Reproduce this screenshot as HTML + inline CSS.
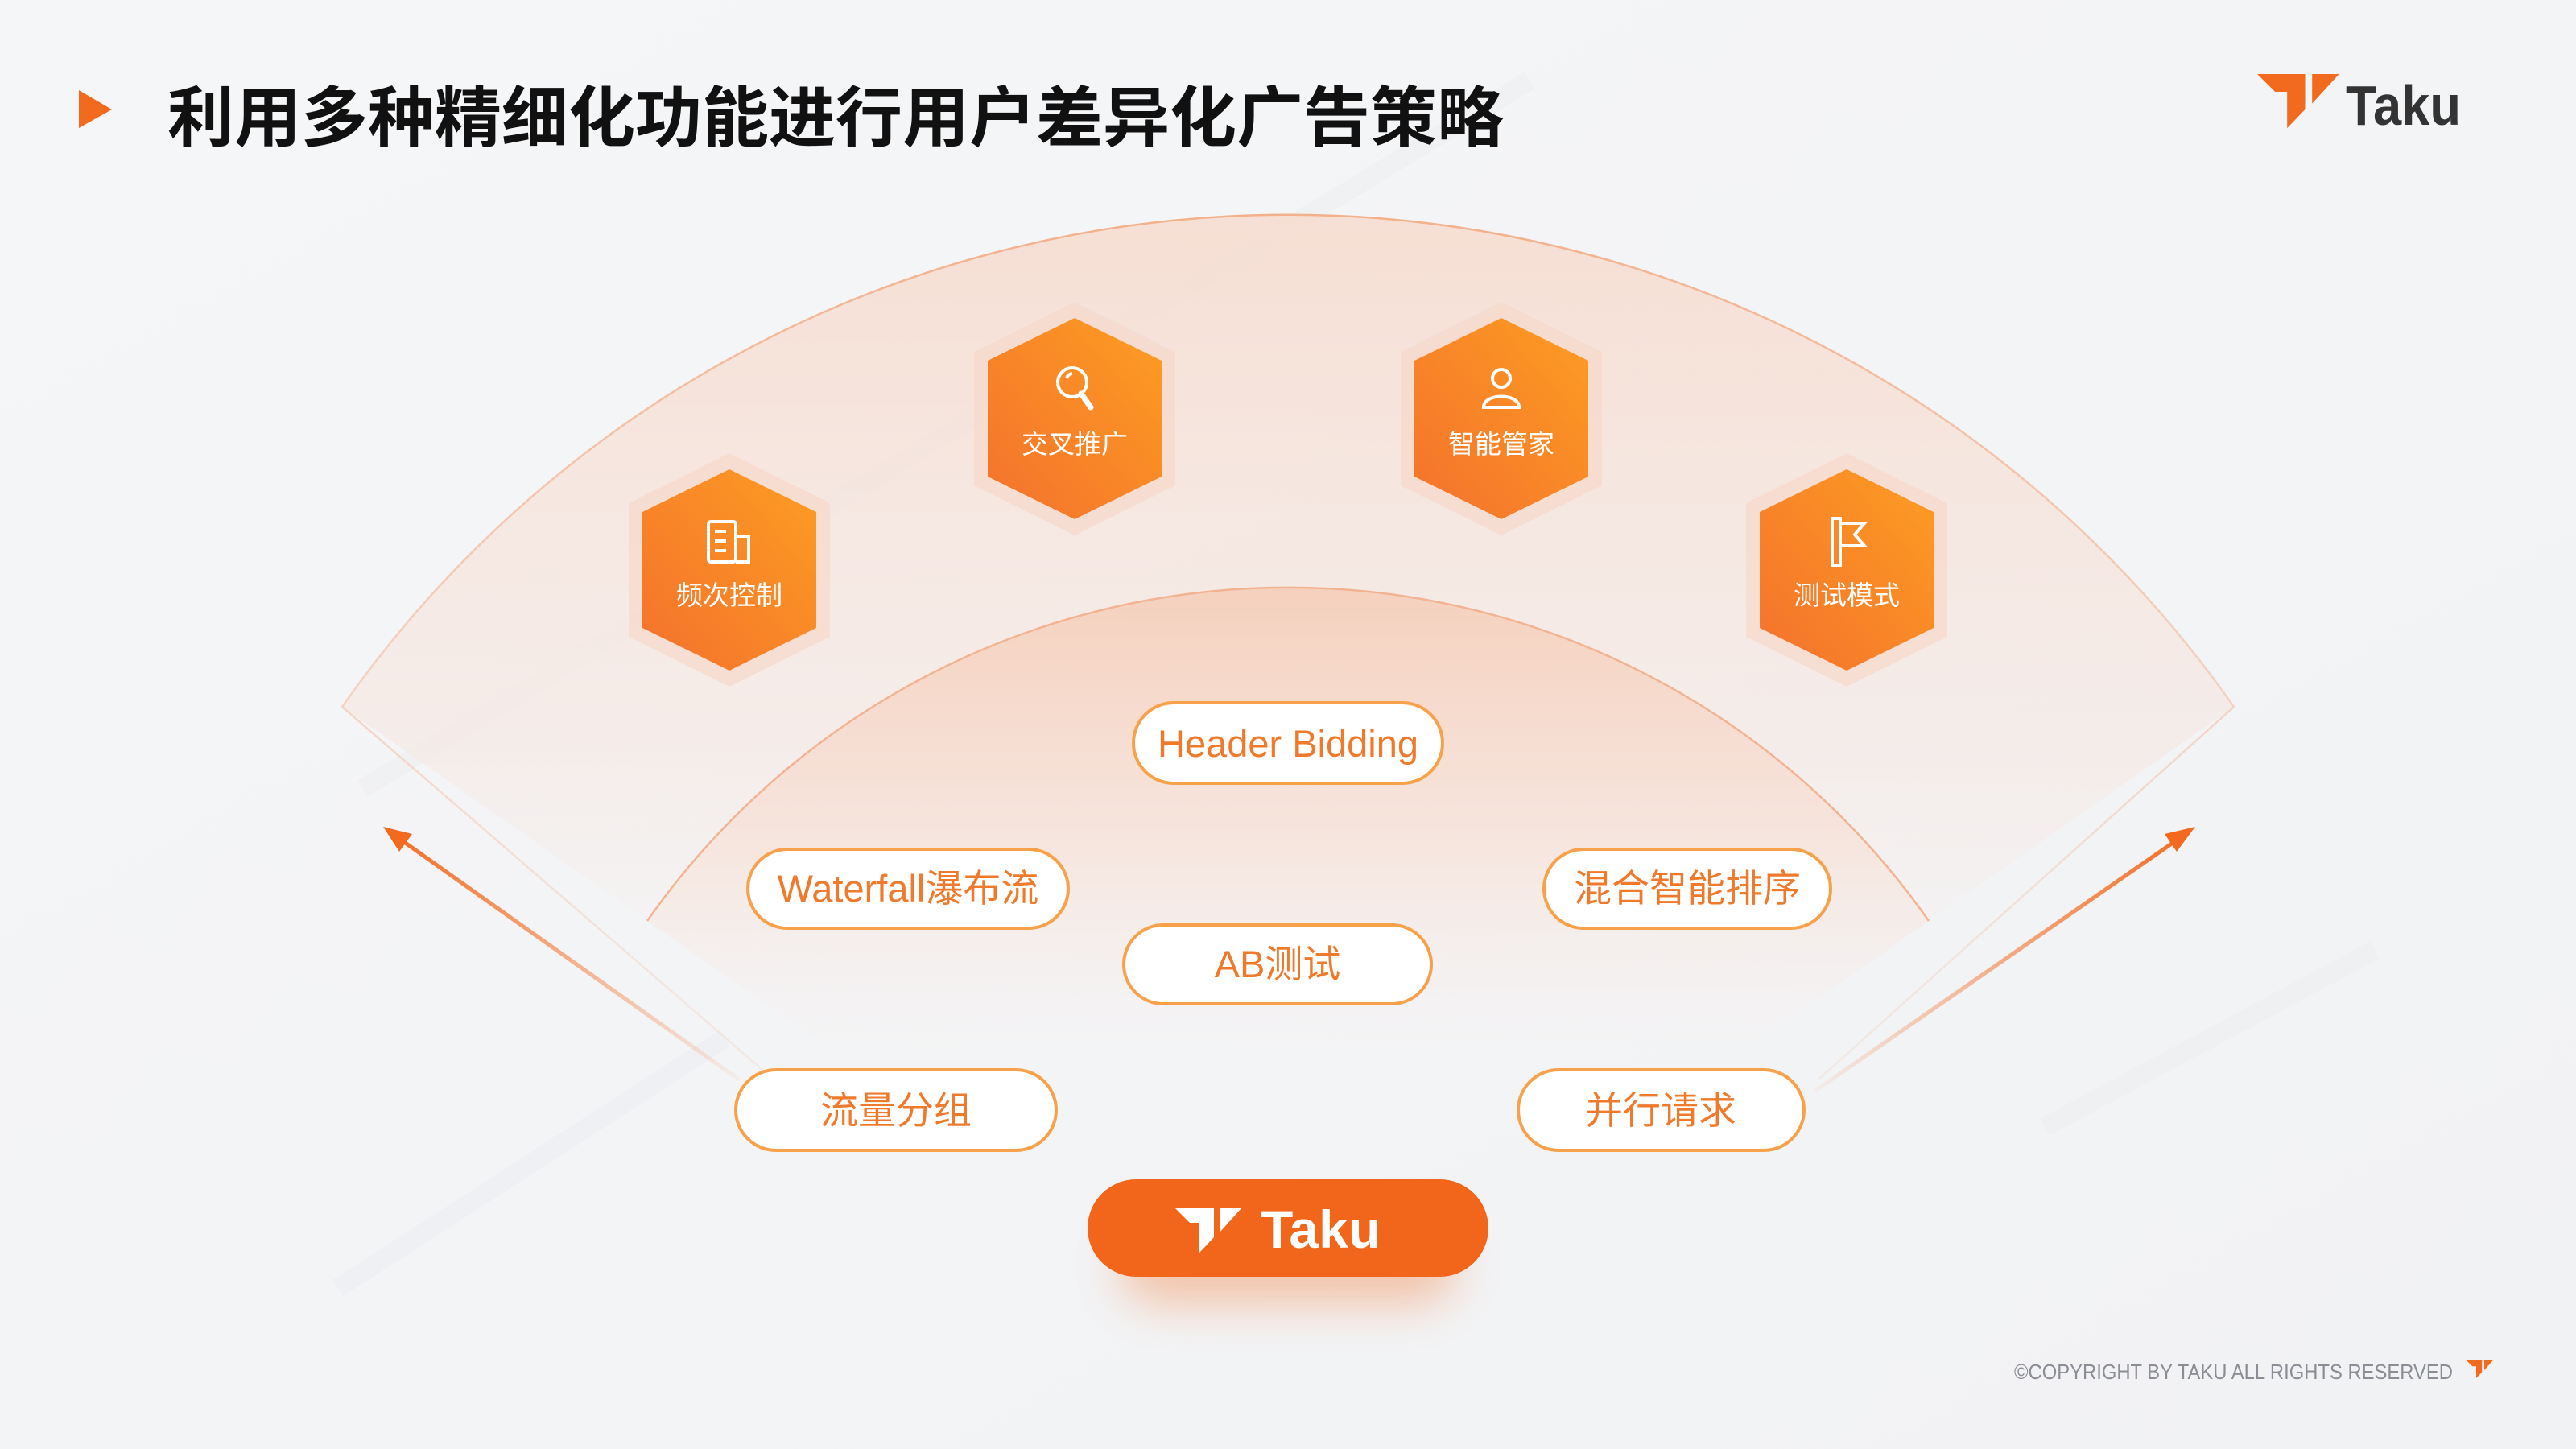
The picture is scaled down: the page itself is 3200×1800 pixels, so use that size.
<!DOCTYPE html>
<html><head><meta charset="utf-8"><style>
html,body{margin:0;padding:0;width:3200px;height:1800px;overflow:hidden;background:#f4f5f7}
svg{display:block}
text{font-family:"Liberation Sans","Noto Sans CJK SC",sans-serif}
</style></head><body>
<svg width="3200" height="1800" viewBox="0 0 3200 1800" xmlns="http://www.w3.org/2000/svg">
<defs>
<linearGradient id="bg" x1="0" y1="0" x2="1" y2="1"><stop offset="0" stop-color="#f5f6f8"/><stop offset="1" stop-color="#f1f2f4"/></linearGradient>
<linearGradient id="oF" gradientUnits="userSpaceOnUse" x1="0" y1="261" x2="0" y2="1400"><stop offset="0" stop-color="#f6dccf" stop-opacity="0.9"/><stop offset="0.6" stop-color="#f6e8e2" stop-opacity="0.6"/><stop offset="1" stop-color="#f4f5f7" stop-opacity="0"/></linearGradient>
<linearGradient id="iF" gradientUnits="userSpaceOnUse" x1="0" y1="730" x2="0" y2="1350"><stop offset="0" stop-color="#f5cfbb" stop-opacity="0.95"/><stop offset="0.55" stop-color="#f7e3da" stop-opacity="0.7"/><stop offset="1" stop-color="#f4f5f7" stop-opacity="0"/></linearGradient>
<linearGradient id="oS" gradientUnits="userSpaceOnUse" x1="0" y1="261" x2="0" y2="1400"><stop offset="0" stop-color="#f3b08a"/><stop offset="1" stop-color="#f3c8b2" stop-opacity="0.2"/></linearGradient>
<linearGradient id="hx" x1="1" y1="0" x2="0" y2="1"><stop offset="0" stop-color="#fd9d22"/><stop offset="1" stop-color="#f4712d"/></linearGradient>
<linearGradient id="arL" gradientUnits="userSpaceOnUse" x1="918" y1="1341" x2="476" y2="1027"><stop offset="0" stop-color="#f36a1f" stop-opacity="0.05"/><stop offset="1" stop-color="#f36a1f"/></linearGradient>
<linearGradient id="arR" gradientUnits="userSpaceOnUse" x1="2255" y1="1355" x2="2727" y2="1027"><stop offset="0" stop-color="#f36a1f" stop-opacity="0.05"/><stop offset="1" stop-color="#f36a1f"/></linearGradient>
<filter id="sh" x="-30%" y="-50%" width="160%" height="250%"><feGaussianBlur stdDeviation="28"/></filter>
<g id="hex">
<polygon points="0,-145 125,-83 125,83 0,145 -125,83 -125,-83" fill="#f6d9cb" opacity="0.75"/>
<polygon points="0,-125 108,-72 108,72 0,125 -108,72 -108,-72" fill="url(#hx)"/>
</g>
<g id="glyph"><path d="M0 0H48V36L30 55V18H18Z"/><path d="M55 0H82L55 30Z"/></g>
</defs>
<rect width="3200" height="1800" fill="url(#bg)"/>
<g stroke="#eaebee" stroke-width="24" opacity="0.35">
<line x1="420" y1="1600" x2="900" y2="1290"/>
<line x1="2540" y1="1400" x2="2950" y2="1180"/>
<line x1="450" y1="980" x2="1900" y2="100"/>
</g>
<path d="M1600 1702 L425 878 A1435 1435 0 0 1 2775 878 Z" fill="url(#oF)"/>
<path d="M960 1340 L425 878 A1435 1435 0 0 1 2775 878 L2260 1340" fill="none" stroke="url(#oS)" stroke-width="2.5"/>
<path d="M1600 1702 L804 1144 A972 972 0 0 1 2396 1144 Z" fill="url(#iF)"/>
<path d="M804 1144 A972 972 0 0 1 2396 1144" fill="none" stroke="#f2b393" stroke-width="2.5"/>
<polygon points="98,112 139,136 98,159" fill="#f26a1d"/>
<text x="208" y="175" font-size="82" font-weight="bold" fill="#111" textLength="1660" lengthAdjust="spacingAndGlyphs">利用多种精细化功能进行用户差异化广告策略</text>
<g fill="#f26a1d" transform="translate(2804,92) scale(1.24,1.22)"><use href="#glyph"/></g>
<text x="2914" y="155" font-size="70" font-weight="bold" fill="#333" textLength="143" lengthAdjust="spacingAndGlyphs">Taku</text>
<g transform="translate(906,708)"><use href="#hex"/>
<g fill="none" stroke="#fff" stroke-width="4"><rect x="-26" y="-60" width="34" height="50" rx="3"/><path d="M8 -42H24V-10H8M-18 -48H-4M-18 -36H-4M-18 -24H-4"/></g>
<text x="0" y="43" font-size="33" fill="#fff" text-anchor="middle">频次控制</text></g>
<g transform="translate(1335,520)"><use href="#hex"/>
<g fill="none" stroke="#fff" stroke-width="4"><circle cx="-3" cy="-45" r="18"/><path d="M8 -31L20 -14" stroke-width="7" stroke-linecap="round"/><path d="M-10 -50A8 8 0 0 1 -3 -56"/></g>
<text x="0" y="43" font-size="33" fill="#fff" text-anchor="middle">交叉推广</text></g>
<g transform="translate(1865,520)"><use href="#hex"/>
<g fill="none" stroke="#fff" stroke-width="4"><circle cx="0" cy="-50" r="11"/><path d="M-22 -14C-22 -32 22 -32 22 -14Z"/></g>
<text x="0" y="43" font-size="33" fill="#fff" text-anchor="middle">智能管家</text></g>
<g transform="translate(2294,708)"><use href="#hex"/>
<g fill="none" stroke="#fff" stroke-width="4"><path d="M-18 -64V-6H-8V-64Z"/><path d="M-8 -58H22L10 -44L22 -30H-8"/></g>
<text x="0" y="43" font-size="33" fill="#fff" text-anchor="middle">测试模式</text></g>
<line x1="918" y1="1341" x2="488" y2="1036" stroke="url(#arL)" stroke-width="5"/>
<polygon points="476,1027 512,1036 496,1058" fill="#f36a1f"/>
<line x1="2255" y1="1355" x2="2715" y2="1036" stroke="url(#arR)" stroke-width="5"/>
<polygon points="2727,1027 2704,1058 2689,1036" fill="#f36a1f"/>
<g fill="#fff" stroke="#f7a24a" stroke-width="4">
<rect x="1408" y="873" width="384" height="100" rx="50"/>
<rect x="929" y="1055" width="398" height="98" rx="49"/>
<rect x="1918" y="1055" width="356" height="98" rx="49"/>
<rect x="1396" y="1149" width="382" height="98" rx="49"/>
<rect x="914" y="1329" width="398" height="100" rx="50"/>
<rect x="1886" y="1329" width="355" height="100" rx="50"/>
</g>
<g fill="#ef7a2c" font-size="47" text-anchor="middle">
<text x="1600" y="940">Header Bidding</text>
<text x="1128" y="1120">Waterfall瀑布流</text>
<text x="2096" y="1120">混合智能排序</text>
<text x="1587" y="1214">AB测试</text>
<text x="1113" y="1396">流量分组</text>
<text x="2063" y="1396">并行请求</text>
</g>
<rect x="1390" y="1520" width="420" height="100" rx="50" fill="#f26a1d" opacity="0.35" filter="url(#sh)"/>
<rect x="1351" y="1465" width="498" height="121" rx="60.5" fill="#f2661c"/>
<g fill="#fff" transform="translate(1460,1501)"><use href="#glyph"/></g>
<text x="1566" y="1550" font-size="66" font-weight="bold" fill="#fff">Taku</text>
<text x="2502" y="1713" font-size="26" fill="#8a8d94" textLength="545" lengthAdjust="spacingAndGlyphs">©COPYRIGHT BY TAKU ALL RIGHTS RESERVED</text>
<g fill="#f26a1d" transform="translate(3064,1690) scale(0.4)"><use href="#glyph"/></g>
</svg>
</body></html>
